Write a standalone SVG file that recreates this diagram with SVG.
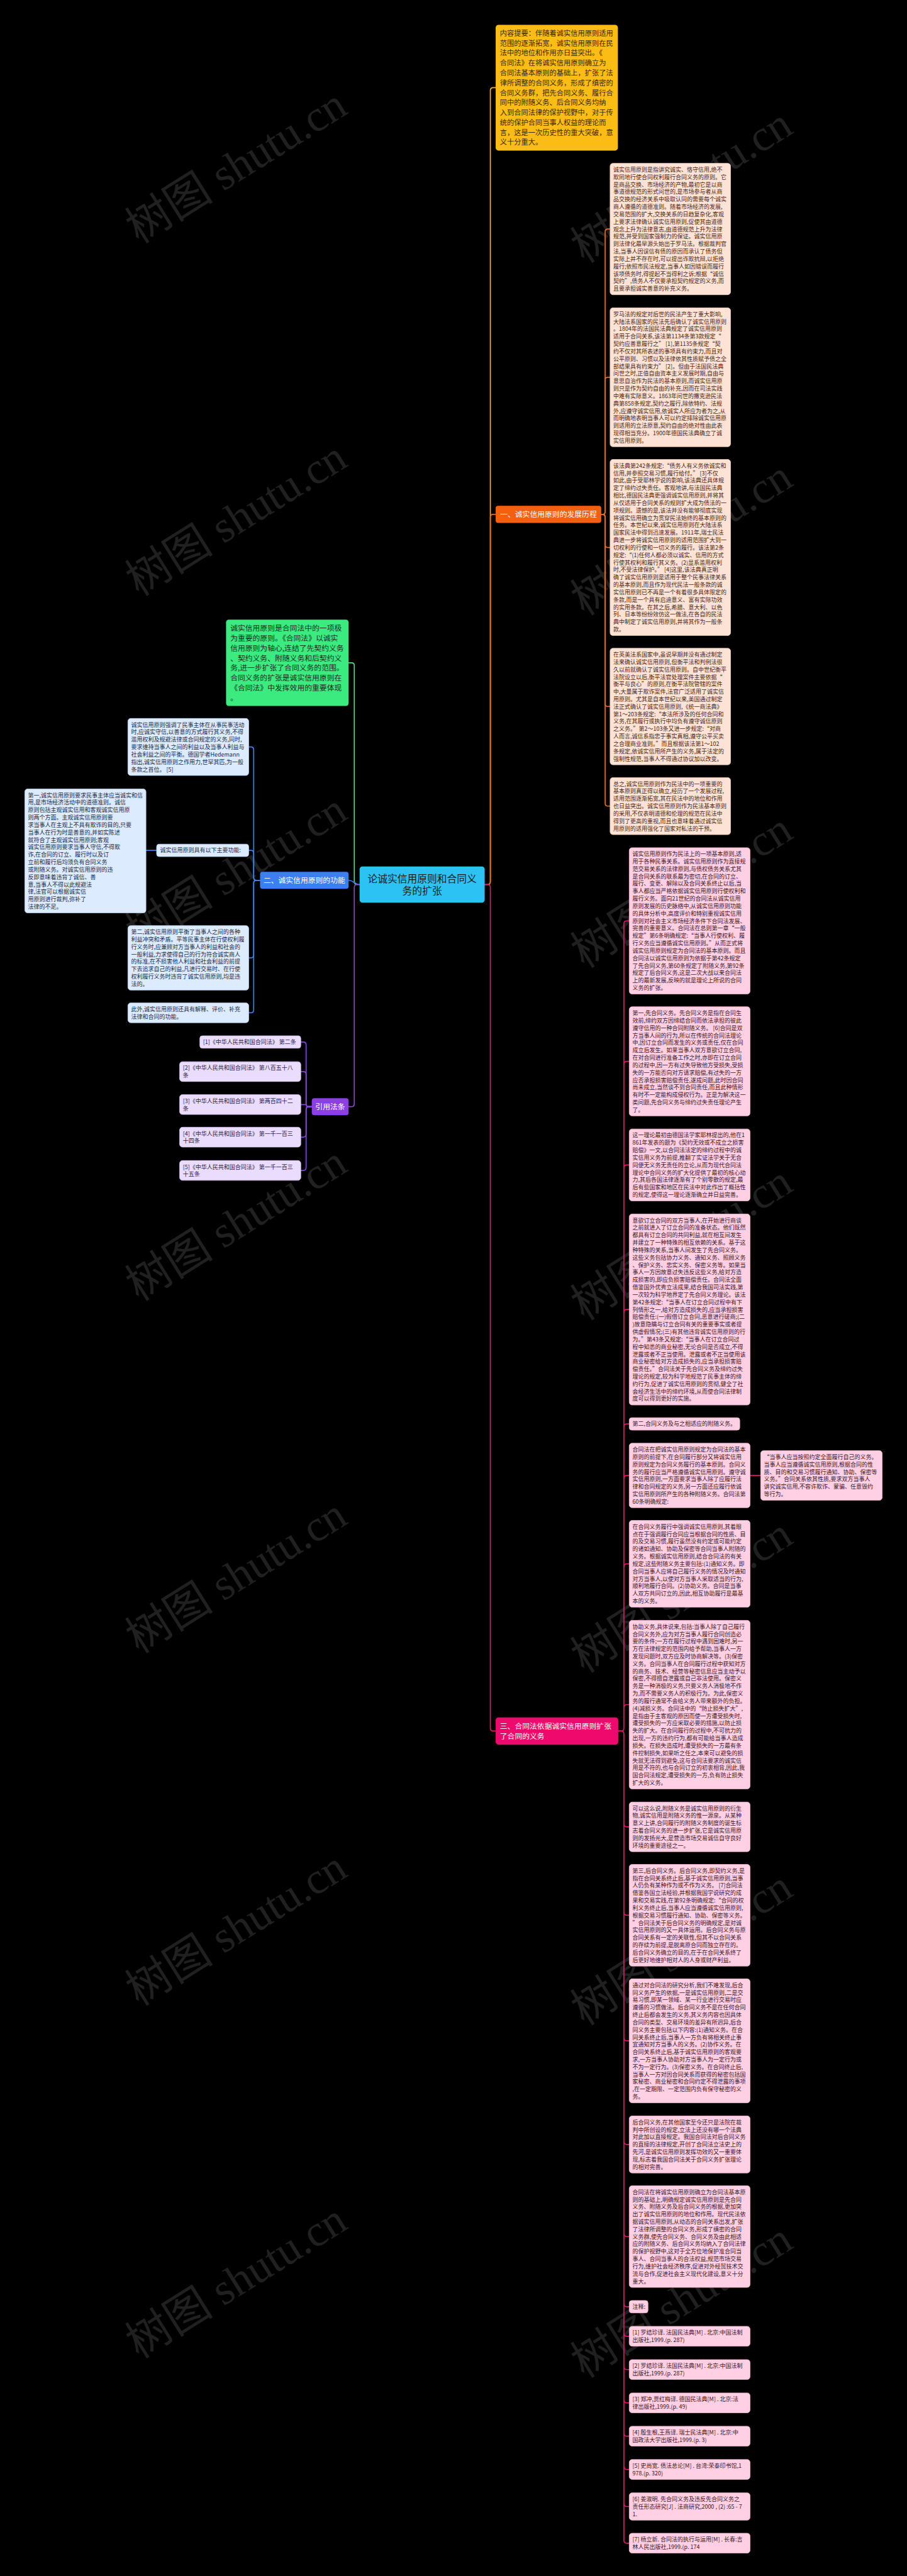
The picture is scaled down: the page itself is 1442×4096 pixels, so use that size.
<svg xmlns="http://www.w3.org/2000/svg" width="1442" height="4096" viewBox="0 0 1442 4096">
<defs>
<style>
text{font-family:'Noto Sans CJK SC','Noto Sans',sans-serif}
.s16{font-size:16px}.s20{font-size:20px}.s21{font-size:21px}.s28{font-size:28px}
.tpe{fill:#4a2614}.tpk{fill:#3d1526}.tbl{fill:#1d2a45}.tpu{fill:#2f1a4d}.tw{fill:#ffffff}.tdk{fill:#1b1b1b}
.rpe{fill:#fde3d5;stroke:#f3cbb5;stroke-width:1.5}
.rpk{fill:#ffd0e3;stroke:#f4b4cf;stroke-width:1.5}
.rbl{fill:#dcebfd;stroke:#b8d2f6;stroke-width:1.5}
.rpu{fill:#eadcfc;stroke:#d2bff2;stroke-width:1.5}
.ln{fill:none;stroke-width:3;stroke-linecap:round;stroke-linejoin:round}
.ly{stroke:#f3b51a}.lo{stroke:#ef6a1f}.lm{stroke:#dc1c68}.lg{stroke:#45e287}.lb{stroke:#3e80ea}.lp{stroke:#8b45d8}
.wm{font-family:'Liberation Serif','Noto Sans CJK SC',serif;font-size:125px;fill:#202020}
</style>
</defs>
<rect x="0" y="0" width="1442" height="4096" fill="#000000"/>
<g transform="scale(0.56328)">

<g id="watermarks">
<text class="wm" text-anchor="middle" transform="translate(668 470) rotate(-32)" y="40">树图 shutu.cn</text>
<text class="wm" text-anchor="middle" transform="translate(668 1465) rotate(-32)" y="40">树图 shutu.cn</text>
<text class="wm" text-anchor="middle" transform="translate(668 2460) rotate(-32)" y="40">树图 shutu.cn</text>
<text class="wm" text-anchor="middle" transform="translate(668 3455) rotate(-32)" y="40">树图 shutu.cn</text>
<text class="wm" text-anchor="middle" transform="translate(668 4450) rotate(-32)" y="40">树图 shutu.cn</text>
<text class="wm" text-anchor="middle" transform="translate(668 5445) rotate(-32)" y="40">树图 shutu.cn</text>
<text class="wm" text-anchor="middle" transform="translate(668 6440) rotate(-32)" y="40">树图 shutu.cn</text>
<text class="wm" text-anchor="middle" transform="translate(1925 525) rotate(-32)" y="40">树图 shutu.cn</text>
<text class="wm" text-anchor="middle" transform="translate(1925 1520) rotate(-32)" y="40">树图 shutu.cn</text>
<text class="wm" text-anchor="middle" transform="translate(1925 2515) rotate(-32)" y="40">树图 shutu.cn</text>
<text class="wm" text-anchor="middle" transform="translate(1925 3510) rotate(-32)" y="40">树图 shutu.cn</text>
<text class="wm" text-anchor="middle" transform="translate(1925 4505) rotate(-32)" y="40">树图 shutu.cn</text>
<text class="wm" text-anchor="middle" transform="translate(1925 5500) rotate(-32)" y="40">树图 shutu.cn</text>
<text class="wm" text-anchor="middle" transform="translate(1925 6495) rotate(-32)" y="40">树图 shutu.cn</text>
</g>

<g id="connectors">
<path class="ln ly" d="M1368 2497 H1376 Q1384 2497 1384 2489 V255.5 Q1384 247.5 1392 247.5 H1399"/>
<path class="ln lo" d="M1368 2497 H1376 Q1384 2497 1384 2489 V1460 Q1384 1452 1392 1452 H1399"/>
<path class="ln lm" d="M1368 2497 H1376 Q1384 2497 1384 2505 V4878.5 Q1384 4886.5 1392 4886.5 H1399"/>
<path class="ln lg" d="M1015 2497 H1008 Q1000 2497 1000 2489 V1879 Q1000 1871 992 1871 H984"/>
<path class="ln lb" d="M1015 2497 C1000 2497 1000 2485 984 2485"/>
<path class="ln lp" d="M1015 2497 H1008 Q1000 2497 1000 2505 V3116 Q1000 3124 992 3124 H984"/>
<path class="ln lo" d="M1697 1452 H1700 Q1708 1452 1708 1444 V654.5 Q1708 646.5 1716 646.5 H1722"/>
<path class="ln lo" d="M1697 1452 H1700 Q1708 1452 1708 1444 V1073 Q1708 1065 1716 1065 H1722"/>
<path class="ln lo" d="M1697 1452 H1700 Q1708 1452 1708 1460 V1537.5 Q1708 1545.5 1716 1545.5 H1722"/>
<path class="ln lo" d="M1697 1452 H1700 Q1708 1452 1708 1460 V1986.5 Q1708 1994.5 1716 1994.5 H1722"/>
<path class="ln lo" d="M1697 1452 H1700 Q1708 1452 1708 1460 V2267.5 Q1708 2275.5 1716 2275.5 H1722"/>
<path class="ln lb" d="M734 2485 H724 Q716 2485 716 2477 V2116.5 Q716 2108.5 708 2108.5 H702"/>
<path class="ln lb" d="M734 2485 H724 Q716 2485 716 2477 V2408.5 Q716 2400.5 708 2400.5 H702"/>
<path class="ln lb" d="M734 2485 H724 Q716 2485 716 2493 V2696 Q716 2704 708 2704 H702"/>
<path class="ln lb" d="M734 2485 H724 Q716 2485 716 2493 V2851 Q716 2859 708 2859 H702"/>
<path class="ln lb" d="M442 2400.5 H412"/>
<path class="ln lp" d="M880 3124 H872 Q864 3124 864 3116 V2949.5 Q864 2941.5 856 2941.5 H849"/>
<path class="ln lp" d="M880 3124 H872 Q864 3124 864 3116 V3033 Q864 3025 856 3025 H849"/>
<path class="ln lp" d="M880 3124 H872 Q864 3124 864 3118 Q864 3118 856 3118 H849"/>
<path class="ln lp" d="M880 3124 H872 Q864 3124 864 3132 V3202 Q864 3210 856 3210 H849"/>
<path class="ln lp" d="M880 3124 H872 Q864 3124 864 3132 V3296 Q864 3304 856 3304 H849"/>
<g class="ln lm">
<path d="M1745 4886.5 H1753 Q1761 4886.5 1761 4878.5 V2607.5 Q1761 2599.5 1769 2599.5 H1776"/>
<path d="M1761 3004 Q1761 2996 1769 2996 H1776"/>
<path d="M1761 3296.5 Q1761 3288.5 1769 3288.5 H1776"/>
<path d="M1761 3704.5 Q1761 3696.5 1769 3696.5 H1776"/>
<path d="M1761 4027.5 Q1761 4019.5 1769 4019.5 H1776"/>
<path d="M1761 4173 Q1761 4165 1769 4165 H1776"/>
<path d="M1761 4422.5 Q1761 4414.5 1769 4414.5 H1776"/>
<path d="M1761 4820 Q1761 4812 1769 4812 H1776"/>
<path d="M1745 4886.5 H1753 Q1761 4886.5 1761 4894.5 V7171 Q1761 7179 1769 7179 H1776"/>
<path d="M1761 5149 Q1761 5157 1769 5157 H1776"/>
<path d="M1761 5398.5 Q1761 5406.5 1769 5406.5 H1776"/>
<path d="M1761 5753 Q1761 5761 1769 5761 H1776"/>
<path d="M1761 6045.5 Q1761 6053.5 1769 6053.5 H1776"/>
<path d="M1761 6305.5 Q1761 6313.5 1769 6313.5 H1776"/>
<path d="M1761 6503.5 Q1761 6511.5 1769 6511.5 H1776"/>
<path d="M1761 6587 Q1761 6595 1769 6595 H1776"/>
<path d="M1761 6681 Q1761 6689 1769 6689 H1776"/>
<path d="M1761 6775 Q1761 6783 1769 6783 H1776"/>
<path d="M1761 6869 Q1761 6877 1769 6877 H1776"/>
<path d="M1761 6963 Q1761 6971 1769 6971 H1776"/>
<path d="M1761 7067.5 Q1761 7075.5 1769 7075.5 H1776"/>
<path d="M2117 4165 H2147"/>
</g>
</g>

<g id="center">
<rect x="1015" y="2446" width="353" height="102" rx="8" fill="#2cc3f4"/>
<text class="s28 tdk" text-anchor="middle" x="1191.5" y="2490">论诚实信用原则和合同义<tspan x="1191.5" dy="35">务的扩张</tspan></text>
</g>

<g id="summary">
<rect x="1399" y="70" width="345" height="355" rx="8" fill="#fbbc16"/>
<text class="s20" fill="#3a2800" x="1411" y="101"><tspan x="1411" dy="0">内容提要：伴随着诚实信用原则适用</tspan><tspan x="1411" dy="28">范围的逐渐拓宽，诚实信用原则在民</tspan><tspan x="1411" dy="28">法中的地位和作用亦日益突出。《</tspan><tspan x="1411" dy="28">合同法》在将诚实信用原则确立为</tspan><tspan x="1411" dy="28">合同法基本原则的基础上，扩张了法</tspan><tspan x="1411" dy="28">律所调整的合同义务，形成了缜密的</tspan><tspan x="1411" dy="28">合同义务群，把先合同义务、履行合</tspan><tspan x="1411" dy="28">同中的附随义务、后合同义务均纳</tspan><tspan x="1411" dy="28">入到合同法律的保护视野中，对于传</tspan><tspan x="1411" dy="28">统的保护合同当事人权益的理论而</tspan><tspan x="1411" dy="28">言，这是一次历史性的重大突破，意</tspan><tspan x="1411" dy="28">义十分重大。</tspan></text>
</g>

<g id="branch1">
<rect x="1399" y="1428" width="298" height="48" rx="7" fill="#f4600f"/>
<text class="s21 tw" text-anchor="middle" x="1548" y="1459">一、诚实信用原则的发展历程</text>
</g>

<g id="b1n1">
<rect class="rpe" x="1722" y="461" width="340" height="371" rx="8"/>
<text class="s16 tpe" x="1731" y="484.5"><tspan x="1731" dy="0">诚实信用原则是指讲究诚实、恪守信用,绝不</tspan><tspan x="1731" dy="21">欺罔地行使合同权利履行合同义务的原则。它</tspan><tspan x="1731" dy="21">是商品交换、市场经济的产物,最初它是以商</tspan><tspan x="1731" dy="21">事道德规范的形式问世的,是市场参与者从商</tspan><tspan x="1731" dy="21">品交换的经济关系中吸取认同的需要每个诚实</tspan><tspan x="1731" dy="21">商人遵循的道德准则。随着市场经济的发展,</tspan><tspan x="1731" dy="21">交易范围的扩大,交换关系的日趋复杂化,客观</tspan><tspan x="1731" dy="21">上要求法律确认诚实信用原则,促使其由道德</tspan><tspan x="1731" dy="21">观念上升为法律意志,由道德规范上升为法律</tspan><tspan x="1731" dy="21">规范,并受到国家强制力的保证。诚实信用原</tspan><tspan x="1731" dy="21">则法律化最早源头始出于罗马法。根据裁判官</tspan><tspan x="1731" dy="21">法,当事人因误信有债的原因而承认了债务但</tspan><tspan x="1731" dy="21">实际上并不存在时,可以提出诈欺抗辩,以拒绝</tspan><tspan x="1731" dy="21">履行;依照市民法规定,当事人如因错误而履行</tspan><tspan x="1731" dy="21">该项债务时,得提起不当得利之诉;根据“诚信</tspan><tspan x="1731" dy="21">契约”,债务人不仅要承担契约规定的义务,而</tspan><tspan x="1731" dy="21">且要承担诚实善意的补充义务。</tspan></text>
</g>

<g id="b1n2">
<rect class="rpe" x="1722" y="869" width="340" height="392" rx="8"/>
<text class="s16 tpe" x="1731" y="892.5"><tspan x="1731" dy="0">罗马法的规定对后世的民法产生了重大影响,</tspan><tspan x="1731" dy="21">大陆法系国家的民法先后确认了诚实信用原则</tspan><tspan x="1731" dy="21">。1804年的法国民法典规定了诚实信用原则</tspan><tspan x="1731" dy="21">适用于合同关系,该法第1134条第3款规定“</tspan><tspan x="1731" dy="21">契约应善意履行之” [1],第1135条规定“契</tspan><tspan x="1731" dy="21">约不仅对其所表述的事项具有约束力,而且对</tspan><tspan x="1731" dy="21">公平原则、习惯以及法律依其性质赋予债之全</tspan><tspan x="1731" dy="21">部结果具有约束力” [2]。但由于法国民法典</tspan><tspan x="1731" dy="21">问世之时,正值自由资本主义发展时期,自由与</tspan><tspan x="1731" dy="21">意思自治作为民法的基本原则,而诚实信用原</tspan><tspan x="1731" dy="21">则只是作为契约自由的补充,因而在司法实践</tspan><tspan x="1731" dy="21">中难有实际意义。1863年问世的撒克逊民法</tspan><tspan x="1731" dy="21">典第858条规定,契约之履行,除依特约、法规</tspan><tspan x="1731" dy="21">外,应遵守诚实信用,依诚实人所应为者为之,从</tspan><tspan x="1731" dy="21">而明确地表明当事人可以约定排除诚实信用原</tspan><tspan x="1731" dy="21">则适用的立法原意,契约自由的绝对性由此表</tspan><tspan x="1731" dy="21">现得相当充分。1900年德国民法典确立了诚</tspan><tspan x="1731" dy="21">实信用原则。</tspan></text>
</g>

<g id="b1n3">
<rect class="rpe" x="1722" y="1297" width="340" height="497" rx="8"/>
<text class="s16 tpe" x="1731" y="1320.5"><tspan x="1731" dy="0">该法典第242条规定:“债务人有义务依诚实和</tspan><tspan x="1731" dy="21">信用,并参照交易习惯,履行给付。” [3]不仅</tspan><tspan x="1731" dy="21">如此,由于受耶林学说的影响,该法典还具体规</tspan><tspan x="1731" dy="21">定了缔约过失责任。客观地讲,与法国民法典</tspan><tspan x="1731" dy="21">相比,德国民法典更强调诚实信用原则,并将其</tspan><tspan x="1731" dy="21">从仅适用于合同关系的规则扩大成为债法的一</tspan><tspan x="1731" dy="21">项规则。遗憾的是,该法并没有能够彻底实现</tspan><tspan x="1731" dy="21">将诚实信用确立为贯穿民法始终的基本原则的</tspan><tspan x="1731" dy="21">任务。本世纪以来,诚实信用原则在大陆法系</tspan><tspan x="1731" dy="21">国家民法中得到迅速发展。1911年,瑞士民法</tspan><tspan x="1731" dy="21">典进一步将诚实信用原则的适用范围扩大到一</tspan><tspan x="1731" dy="21">切权利的行使和一切义务的履行。该法第2条</tspan><tspan x="1731" dy="21">规定:“(1)任何人都必须以诚实、信用的方式</tspan><tspan x="1731" dy="21">行使其权利和履行其义务。(2)显系滥用权利</tspan><tspan x="1731" dy="21">时,不受法律保护。” [4]这里,该法典真正明</tspan><tspan x="1731" dy="21">确了诚实信用原则是适用于整个民事法律关系</tspan><tspan x="1731" dy="21">的基本原则,而且作为现代民法一般条款的诚</tspan><tspan x="1731" dy="21">实信用原则已不再是一个有着很多具体限定的</tspan><tspan x="1731" dy="21">条款,而是一个具有启迪意义、富有实际功效</tspan><tspan x="1731" dy="21">的实用条款。在其之后,希腊、意大利、以色</tspan><tspan x="1731" dy="21">列、日本等纷纷效仿这一做法,在各自的民法</tspan><tspan x="1731" dy="21">典中制定了诚实信用原则,并将其作为一般条</tspan><tspan x="1731" dy="21">款。</tspan></text>
</g>

<g id="b1n4">
<rect class="rpe" x="1722" y="1830" width="340" height="329" rx="8"/>
<text class="s16 tpe" x="1731" y="1853.5"><tspan x="1731" dy="0">在英美法系国家中,虽说早期并没有通过制定</tspan><tspan x="1731" dy="21">法来确认诚实信用原则,但衡平法和判例法很</tspan><tspan x="1731" dy="21">久以前就确认了诚实信用原则。自中世纪衡平</tspan><tspan x="1731" dy="21">法院设立以后,衡平法官处理案件主要依据“</tspan><tspan x="1731" dy="21">衡平与良心”的原则,在衡平法院管辖的案件</tspan><tspan x="1731" dy="21">中,大量属于欺诈案件,法官广泛适用了诚实信</tspan><tspan x="1731" dy="21">用原则。尤其是自本世纪以来,美国通过制定</tspan><tspan x="1731" dy="21">法正式确认了诚实信用原则,《统一商法典》</tspan><tspan x="1731" dy="21">第1～203条规定:“本法所涉及的任何合同和</tspan><tspan x="1731" dy="21">义务,在其履行或执行中均负有遵守诚信原则</tspan><tspan x="1731" dy="21">之义务。”第2～103条又进一步规定:“对商</tspan><tspan x="1731" dy="21">人而言,诚信系指忠于事实真相,遵守公平买卖</tspan><tspan x="1731" dy="21">之合理商业准则。”而且根据该法第1～102</tspan><tspan x="1731" dy="21">条规定,依诚实信用所产生的义务,属于法定的</tspan><tspan x="1731" dy="21">强制性规范,当事人不得通过协议加以改变。</tspan></text>
</g>

<g id="b1n5">
<rect class="rpe" x="1722" y="2195" width="340" height="161" rx="8"/>
<text class="s16 tpe" x="1731" y="2218.5"><tspan x="1731" dy="0">总之,诚实信用原则作为民法中的一项重要的</tspan><tspan x="1731" dy="21">基本原则真正得以确立,经历了一个发展过程,</tspan><tspan x="1731" dy="21">适用范围逐渐拓宽,其在民法中的地位和作用</tspan><tspan x="1731" dy="21">也日益突出。诚实信用原则作为民法基本原则</tspan><tspan x="1731" dy="21">的采用,不仅表明道德和伦理的规范在民法中</tspan><tspan x="1731" dy="21">得到了更高的重视,而且也意味着通过诚实信</tspan><tspan x="1731" dy="21">用原则的适用强化了国家对私法的干预。</tspan></text>
</g>

<g id="green">
<rect x="638" y="1749" width="346" height="244" rx="8" fill="#3ceb7f"/>
<text class="s21" fill="#15301d" x="650" y="1781"><tspan x="650" dy="0">诚实信用原则是合同法中的一项极</tspan><tspan x="650" dy="28">为重要的原则。《合同法》以诚实</tspan><tspan x="650" dy="28">信用原则为轴心,连结了先契约义务</tspan><tspan x="650" dy="28">、契约义务、附随义务和后契约义</tspan><tspan x="650" dy="28">务,进一步扩张了合同义务的范围。</tspan><tspan x="650" dy="28">合同义务的扩张是诚实信用原则在</tspan><tspan x="650" dy="28">《合同法》中发挥效用的重要体现</tspan><tspan x="650" dy="28">。</tspan></text>
</g>

<g id="branch2">
<rect x="734" y="2461" width="250" height="48" rx="7" fill="#3b7ff2"/>
<text class="s21 tw" text-anchor="middle" x="859" y="2492">二、诚实信用原则的功能</text>
</g>

<g id="b2n1">
<rect class="rbl" x="361" y="2028" width="341" height="161" rx="8"/>
<text class="s16 tbl" x="370" y="2051.5"><tspan x="370" dy="0">诚实信用原则强调了民事主体在从事民事活动</tspan><tspan x="370" dy="21">时,应诚实守信,以善意的方式履行其义务,不得</tspan><tspan x="370" dy="21">滥用权利及规避法律或合同规定的义务,同时,</tspan><tspan x="370" dy="21">要求维持当事人之间的利益以及当事人利益与</tspan><tspan x="370" dy="21">社会利益之间的平衡。德国学者Hedemann</tspan><tspan x="370" dy="21">指出,诚实信用原则之作用力,世罕其匹,为一般</tspan><tspan x="370" dy="21">条款之首位。 [5]</tspan></text>
</g>

<g id="b2n2">
<rect class="rbl" x="442" y="2383" width="260" height="35" rx="7"/>
<text class="s16 tbl" x="452" y="2406">诚实信用原则具有以下主要功能:</text>
</g>

<g id="b2n2a">
<rect class="rbl" x="70" y="2227" width="342" height="350" rx="8"/>
<text class="s16 tbl" x="79" y="2250.5"><tspan x="79" dy="0">第一,诚实信用原则要求民事主体应当诚实和信</tspan><tspan x="79" dy="21">用,是市场经济活动中的道德准则。诚信</tspan><tspan x="79" dy="21">原则包括主观诚实信用和客观诚实信用原</tspan><tspan x="79" dy="21">则两个方面。主观诚实信用原则要</tspan><tspan x="79" dy="21">求当事人在主观上不具有欺诈的目的,只要</tspan><tspan x="79" dy="21">当事人在行为时是善意的,并如实陈述</tspan><tspan x="79" dy="21">就符合了主观诚实信用原则;客观</tspan><tspan x="79" dy="21">诚实信用原则要求当事人守信,不得欺</tspan><tspan x="79" dy="21">诈,在合同的订立、履行时以及订</tspan><tspan x="79" dy="21">立前和履行后均须负有合同义务</tspan><tspan x="79" dy="21">或附随义务。对诚实信用原则的违</tspan><tspan x="79" dy="21">反即意味着违背了诚信、善</tspan><tspan x="79" dy="21">意,当事人不得以此规避法</tspan><tspan x="79" dy="21">律,法官可以根据诚实信</tspan><tspan x="79" dy="21">用原则进行裁判,弥补了</tspan><tspan x="79" dy="21">法律的不足。</tspan></text>
</g>

<g id="b2n3">
<rect class="rbl" x="361" y="2613" width="341" height="182" rx="8"/>
<text class="s16 tbl" x="370" y="2636.5"><tspan x="370" dy="0">第二,诚实信用原则平衡了当事人之间的各种</tspan><tspan x="370" dy="21">利益冲突和矛盾。平等民事主体在行使权利履</tspan><tspan x="370" dy="21">行义务时,应兼顾对方当事人的利益和社会的</tspan><tspan x="370" dy="21">一般利益,力求使得自己的行为符合诚实商人</tspan><tspan x="370" dy="21">的标准,在不损害他人利益和社会利益的前提</tspan><tspan x="370" dy="21">下去追求自己的利益,凡进行交易时、在行使</tspan><tspan x="370" dy="21">权利履行义务时违背了诚实信用原则,均是违</tspan><tspan x="370" dy="21">法的。</tspan></text>
</g>

<g id="b2n4">
<rect class="rbl" x="361" y="2831" width="341" height="56" rx="8"/>
<text class="s16 tbl" x="370" y="2854.5"><tspan x="370" dy="0">此外,诚实信用原则还具有解释、评价、补充</tspan><tspan x="370" dy="21">法律和合同的功能。</tspan></text>
</g>

<g id="branch4">
<rect x="880" y="3100" width="104" height="48" rx="7" fill="#8c3fe3"/>
<text class="s21 tw" text-anchor="middle" x="932" y="3131">引用法条</text>
</g>
<g id="law1"><rect class="rpu" x="564" y="2924" width="285" height="35" rx="7"/><text class="s16 tpu" x="573" y="2947">[1]《中华人民共和国合同法》 第二条</text></g>
<g id="law2"><rect class="rpu" x="507" y="2997" width="342" height="56" rx="8"/><text class="s16 tpu" x="516" y="3020.5"><tspan x="516" dy="0">[2]《中华人民共和国合同法》 第八百五十八</tspan><tspan x="516" dy="21">条</tspan></text></g>
<g id="law3"><rect class="rpu" x="507" y="3090" width="342" height="56" rx="8"/><text class="s16 tpu" x="516" y="3113.5"><tspan x="516" dy="0">[3]《中华人民共和国合同法》 第两百四十二</tspan><tspan x="516" dy="21">条</tspan></text></g>
<g id="law4"><rect class="rpu" x="507" y="3182" width="342" height="56" rx="8"/><text class="s16 tpu" x="516" y="3205.5"><tspan x="516" dy="0">[4]《中华人民共和国合同法》 第一千一百三</tspan><tspan x="516" dy="21">十四条</tspan></text></g>
<g id="law5"><rect class="rpu" x="507" y="3276" width="342" height="56" rx="8"/><text class="s16 tpu" x="516" y="3299.5"><tspan x="516" dy="0">[5]《中华人民共和国合同法》 第一千一百三</tspan><tspan x="516" dy="21">十五条</tspan></text></g>

<g id="branch3">
<rect x="1399" y="4848" width="346" height="77" rx="8" fill="#f0096c"/>
<text class="s21 tw" x="1411" y="4880"><tspan x="1411" dy="0">三、合同法依据诚实信用原则扩张</tspan><tspan x="1411" dy="28">了合同的义务</tspan></text>
</g>

<g id="p1"><rect class="rpk" x="1776" y="2393" width="341" height="413" rx="8"/>
<text class="s16 tpk" x="1785" y="2416.5"><tspan x="1785" dy="0">诚实信用原则作为民法上的一项基本原则,适</tspan><tspan x="1785" dy="21">用于各种民事关系。诚实信用原则作为直接规</tspan><tspan x="1785" dy="21">范交易关系的法律原则,与债权债务关系尤其</tspan><tspan x="1785" dy="21">是合同关系的联系最为密切,在合同的订立、</tspan><tspan x="1785" dy="21">履行、变更、解除以及合同关系终止以后,当</tspan><tspan x="1785" dy="21">事人都应当严格依据诚实信用原则行使权利和</tspan><tspan x="1785" dy="21">履行义务。面向21世纪的合同法从诚实信用</tspan><tspan x="1785" dy="21">原则发展的历史脉络中,从诚实信用原则功能</tspan><tspan x="1785" dy="21">的具体分析中,高度评价和特别重视诚实信用</tspan><tspan x="1785" dy="21">原则对社会主义市场经济条件下合同法发展、</tspan><tspan x="1785" dy="21">完善的重要意义。合同法在总则第一章“一般</tspan><tspan x="1785" dy="21">规定”第6条明确规定:“当事人行使权利、履</tspan><tspan x="1785" dy="21">行义务应当遵循诚实信用原则。”从而正式将</tspan><tspan x="1785" dy="21">诚实信用原则规定为合同法的基本原则。而且</tspan><tspan x="1785" dy="21">合同法以诚实信用原则为依据于第42条规定</tspan><tspan x="1785" dy="21">了先合同义务,第60条规定了附随义务,第92条</tspan><tspan x="1785" dy="21">规定了后合同义务,这是二次大战以来合同法</tspan><tspan x="1785" dy="21">上的最新发展,反映的就是理论上所说的合同</tspan><tspan x="1785" dy="21">义务的扩张。</tspan></text></g>

<g id="p2"><rect class="rpk" x="1776" y="2842" width="341" height="308" rx="8"/>
<text class="s16 tpk" x="1785" y="2865.5"><tspan x="1785" dy="0">第一,先合同义务。先合同义务是指在合同生</tspan><tspan x="1785" dy="21">效前,缔约双方因缔结合同而依法承担的彼此</tspan><tspan x="1785" dy="21">遵守信用的一种合同附随义务。 [6]合同是双</tspan><tspan x="1785" dy="21">方当事人间的行为,所以在传统的合同法理论</tspan><tspan x="1785" dy="21">中,因订立合同而发生的义务或责任,仅在合同</tspan><tspan x="1785" dy="21">成立后发生。如果当事人双方意欲订立合同,</tspan><tspan x="1785" dy="21">在对合同进行准备工作之时,亦即在订立合同</tspan><tspan x="1785" dy="21">的过程中,因一方有过失导致他方受损失,受损</tspan><tspan x="1785" dy="21">失的一方能否向对方请求赔偿,有过失的一方</tspan><tspan x="1785" dy="21">应否承担损害赔偿责任,遂成问题,此时因合同</tspan><tspan x="1785" dy="21">尚未成立,当然谈不到合同责任,而且此种情形</tspan><tspan x="1785" dy="21">有时不一定能构成侵权行为。正是为解决这一</tspan><tspan x="1785" dy="21">类问题,先合同义务与缔约过失责任理论产生</tspan><tspan x="1785" dy="21">了。</tspan></text></g>

<g id="p3"><rect class="rpk" x="1776" y="3187" width="341" height="203" rx="8"/>
<text class="s16 tpk" x="1785" y="3210.5"><tspan x="1785" dy="0">这一理论最初由德国法学家耶林提出的,他在1</tspan><tspan x="1785" dy="21">861年发表的题为《契约无效或不成立之损害</tspan><tspan x="1785" dy="21">赔偿》一文,以合同法法定的缔约过程中的诚</tspan><tspan x="1785" dy="21">实信用义务为前提,推翻了实证法学关于无合</tspan><tspan x="1785" dy="21">同便无义务无责任的立论,从而为现代合同法</tspan><tspan x="1785" dy="21">理论中合同义务的扩大化提供了最初的核心动</tspan><tspan x="1785" dy="21">力,其后各国法律逐渐有了个别零散的规定,最</tspan><tspan x="1785" dy="21">后有些国家和地区在民法中对此作出了概括性</tspan><tspan x="1785" dy="21">的规定,使得这一理论逐渐确立并日益完善。</tspan></text></g>

<g id="p4"><rect class="rpk" x="1776" y="3427" width="341" height="539" rx="8"/>
<text class="s16 tpk" x="1785" y="3450.5"><tspan x="1785" dy="0">意欲订立合同的双方当事人,在开始进行商谈</tspan><tspan x="1785" dy="21">之前就进入了订立合同的准备状态。他们既然</tspan><tspan x="1785" dy="21">都具有订立合同的共同利益,就在相互间发生</tspan><tspan x="1785" dy="21">并建立了一种特殊的相互依赖的关系。基于这</tspan><tspan x="1785" dy="21">种特殊的关系,当事人间发生了先合同义务。</tspan><tspan x="1785" dy="21">这些义务包括协力义务、通知义务、照顾义务</tspan><tspan x="1785" dy="21">、保护义务、忠实义务、保密义务等。如果当</tspan><tspan x="1785" dy="21">事人一方因故意过失违反这些义务,给对方造</tspan><tspan x="1785" dy="21">成损害的,即应负损害赔偿责任。合同法全面</tspan><tspan x="1785" dy="21">借鉴国外优秀立法成果,结合我国司法实践,第</tspan><tspan x="1785" dy="21">一次较为科学地界定了先合同义务理论。该法</tspan><tspan x="1785" dy="21">第42条规定:“当事人在订立合同过程中有下</tspan><tspan x="1785" dy="21">列情形之一,给对方造成损失的,应当承担损害</tspan><tspan x="1785" dy="21">赔偿责任:(一)假借订立合同,恶意进行磋商;(二</tspan><tspan x="1785" dy="21">)故意隐瞒与订立合同有关的重要事实或者提</tspan><tspan x="1785" dy="21">供虚假情况;(三)有其他违背诚实信用原则的行</tspan><tspan x="1785" dy="21">为。”第43条又规定:“当事人在订立合同过</tspan><tspan x="1785" dy="21">程中知悉的商业秘密,无论合同是否成立,不得</tspan><tspan x="1785" dy="21">泄露或者不正当使用。泄露或者不正当使用该</tspan><tspan x="1785" dy="21">商业秘密给对方造成损失的,应当承担损害赔</tspan><tspan x="1785" dy="21">偿责任。”合同法关于先合同义务及缔约过失</tspan><tspan x="1785" dy="21">理论的规定,较为科学地规范了民事主体的缔</tspan><tspan x="1785" dy="21">约行为,促进了诚实信用原则的贯彻,健全了社</tspan><tspan x="1785" dy="21">会经济生活中的缔约环境,从而使合同法律制</tspan><tspan x="1785" dy="21">度可以得到更好的实施。</tspan></text></g>

<g id="p5"><rect class="rpk" x="1776" y="4002" width="312" height="35" rx="7"/>
<text class="s16 tpk" x="1785" y="4025">第二,合同义务及与之相适应的附随义务。</text></g>

<g id="p6"><rect class="rpk" x="1776" y="4074" width="341" height="182" rx="8"/>
<text class="s16 tpk" x="1785" y="4097.5"><tspan x="1785" dy="0">合同法在把诚实信用原则规定为合同法的基本</tspan><tspan x="1785" dy="21">原则的前提下,在合同履行部分又将诚实信用</tspan><tspan x="1785" dy="21">原则规定为合同义务履行的基本原则。合同义</tspan><tspan x="1785" dy="21">务的履行应当严格遵循诚实信用原则。遵守诚</tspan><tspan x="1785" dy="21">实信用原则,一方面要求当事人除了应履行法</tspan><tspan x="1785" dy="21">律和合同规定的义务,另一方面还应履行依诚</tspan><tspan x="1785" dy="21">实信用原则所产生的各种附随义务。合同法第</tspan><tspan x="1785" dy="21">60条明确规定:</tspan></text></g>

<g id="p6side"><rect class="rpk" x="2147" y="4095" width="343" height="140" rx="8"/>
<text class="s16 tpk" x="2156" y="4118.5"><tspan x="2156" dy="0">“当事人应当按照约定全面履行自己的义务。</tspan><tspan x="2156" dy="21">当事人应当遵循诚实信用原则,根据合同的性</tspan><tspan x="2156" dy="21">质、目的和交易习惯履行通知、协助、保密等</tspan><tspan x="2156" dy="21">义务。”合同关系依其性质,要求双方当事人</tspan><tspan x="2156" dy="21">讲究诚实信用,不容许欺诈、蒙骗、任意毁约</tspan><tspan x="2156" dy="21">等行为。</tspan></text></g>

<g id="p7"><rect class="rpk" x="1776" y="4292" width="341" height="245" rx="8"/>
<text class="s16 tpk" x="1785" y="4315.5"><tspan x="1785" dy="0">在合同义务履行中强调诚实信用原则,其着眼</tspan><tspan x="1785" dy="21">点在于强调履行合同应当根据合同的性质、目</tspan><tspan x="1785" dy="21">的及交易习惯,履行虽然没有约定或可能约定</tspan><tspan x="1785" dy="21">的诸如通知、协助及保密等合同当事人附随的</tspan><tspan x="1785" dy="21">义务。根据诚实信用原则,结合合同法的有关</tspan><tspan x="1785" dy="21">规定,这些附随义务主要包括:(1)通知义务。即</tspan><tspan x="1785" dy="21">合同当事人应将自己履行义务的情况及时通知</tspan><tspan x="1785" dy="21">对方当事人,以使对方当事人采取适当的行为,</tspan><tspan x="1785" dy="21">顺利地履行合同。(2)协助义务。合同是当事</tspan><tspan x="1785" dy="21">人双方共同订立的,因此,相互协助履行是最基</tspan><tspan x="1785" dy="21">本的义务。</tspan></text></g>

<g id="p8"><rect class="rpk" x="1776" y="4574" width="341" height="476" rx="8"/>
<text class="s16 tpk" x="1785" y="4597.5"><tspan x="1785" dy="0">协助义务,具体说来,包括:当事人除了自己履行</tspan><tspan x="1785" dy="21">合同义务外,应为对方当事人履行合同创造必</tspan><tspan x="1785" dy="21">要的条件;一方在履行过程中遇到困难时,另一</tspan><tspan x="1785" dy="21">方在法律规定的范围内给予帮助,当事人一方</tspan><tspan x="1785" dy="21">发现问题时,双方应及时协商解决等。(3)保密</tspan><tspan x="1785" dy="21">义务。合同当事人在合同履行过程中获知对方</tspan><tspan x="1785" dy="21">的商务、技术、经营等秘密信息应当主动予以</tspan><tspan x="1785" dy="21">保密,不得擅自泄露或自己非法使用。保密义</tspan><tspan x="1785" dy="21">务是一种消极的义务,只要义务人消极地不作</tspan><tspan x="1785" dy="21">为,而不需要义务人的积极行为。为此,保密义</tspan><tspan x="1785" dy="21">务的履行通常不会给义务人带来额外的负担。</tspan><tspan x="1785" dy="21">(4)减损义务。合同法中的“防止损失扩大”,</tspan><tspan x="1785" dy="21">是指由于主客观的原因而使一方遭受损失时,</tspan><tspan x="1785" dy="21">遭受损失的一方应采取必要的措施,以防止损</tspan><tspan x="1785" dy="21">失的扩大。在合同履行的过程中,不可抗力的</tspan><tspan x="1785" dy="21">出现,一方的违约行为,都有可能给当事人造成</tspan><tspan x="1785" dy="21">损失。在损失造成时,遭受损失的一方最有条</tspan><tspan x="1785" dy="21">件控制损失,如果听之任之,本来可以避免的损</tspan><tspan x="1785" dy="21">失就无法得到避免,这与合同法要求的诚实信</tspan><tspan x="1785" dy="21">用是不符的,也与合同订立的初衷相背,因此,我</tspan><tspan x="1785" dy="21">国合同法规定,遭受损失的一方,负有防止损失</tspan><tspan x="1785" dy="21">扩大的义务。</tspan></text></g>

<g id="p9"><rect class="rpk" x="1776" y="5087" width="341" height="140" rx="8"/>
<text class="s16 tpk" x="1785" y="5110.5"><tspan x="1785" dy="0">可以这么说,附随义务是诚实信用原则的衍生</tspan><tspan x="1785" dy="21">物,诚实信用是附随义务的惟一源泉。从某种</tspan><tspan x="1785" dy="21">意义上讲,合同履行的附随义务制度的诞生标</tspan><tspan x="1785" dy="21">志着合同义务的进一步扩张,它是诚实信用原</tspan><tspan x="1785" dy="21">则的发扬光大,是营造市场交易诚信自守良好</tspan><tspan x="1785" dy="21">环境的重要途径之一。</tspan></text></g>

<g id="p10"><rect class="rpk" x="1776" y="5263" width="341" height="287" rx="8"/>
<text class="s16 tpk" x="1785" y="5286.5"><tspan x="1785" dy="0">第三,后合同义务。后合同义务,即契约义务,是</tspan><tspan x="1785" dy="21">指在合同关系终止后,基于诚实信用原则,当事</tspan><tspan x="1785" dy="21">人仍负有某种作为或不作为义务。 [7]合同法</tspan><tspan x="1785" dy="21">借鉴各国立法经验,并根据我国学说研究的成</tspan><tspan x="1785" dy="21">果和交易实践,在第92条明确规定:“合同的权</tspan><tspan x="1785" dy="21">利义务终止后,当事人应当遵循诚实信用原则,</tspan><tspan x="1785" dy="21">根据交易习惯履行通知、协助、保密等义务。</tspan><tspan x="1785" dy="21">”合同法关于后合同义务的明确规定,是对诚</tspan><tspan x="1785" dy="21">实信用原则的又一具体运用。后合同义务与原</tspan><tspan x="1785" dy="21">合同关系有一定的关联性,但其不以合同关系</tspan><tspan x="1785" dy="21">的存续为前提,是脱离原合同而独立存在的。</tspan><tspan x="1785" dy="21">后合同义务确立的目的,在于在合同关系终了</tspan><tspan x="1785" dy="21">后更好地维护相对人的人身或财产利益。</tspan></text></g>

<g id="p11"><rect class="rpk" x="1776" y="5586" width="341" height="350" rx="8"/>
<text class="s16 tpk" x="1785" y="5609.5"><tspan x="1785" dy="0">通过对合同法的研究分析,我们不难发现,后合</tspan><tspan x="1785" dy="21">同义务产生的依据,一是诚实信用原则,二是交</tspan><tspan x="1785" dy="21">易习惯,即某一领域、某一行业进行交易时应</tspan><tspan x="1785" dy="21">遵循的习惯做法。后合同义务不是在任何合同</tspan><tspan x="1785" dy="21">终止后都会发生的义务,其义务内容也因具体</tspan><tspan x="1785" dy="21">合同的类型、交易环境的差异有所迥异,后合</tspan><tspan x="1785" dy="21">同义务主要包括以下内容:(1)通知义务。在合</tspan><tspan x="1785" dy="21">同关系终止后,当事人一方负有将相关终止事</tspan><tspan x="1785" dy="21">宜通知对方当事人的义务。(2)协作义务。在</tspan><tspan x="1785" dy="21">合同关系终止后,基于诚实信用原则的客观要</tspan><tspan x="1785" dy="21">求,一方当事人协助对方当事人为一定行为或</tspan><tspan x="1785" dy="21">不为一定行为。(3)保密义务。在合同终止后,</tspan><tspan x="1785" dy="21">当事人一方对因合同关系而获得的秘密包括国</tspan><tspan x="1785" dy="21">家秘密、商业秘密和合同约定不得泄露的事项</tspan><tspan x="1785" dy="21">,在一定期限、一定范围内负有保守秘密的义</tspan><tspan x="1785" dy="21">务。</tspan></text></g>

<g id="p12"><rect class="rpk" x="1776" y="5973" width="341" height="161" rx="8"/>
<text class="s16 tpk" x="1785" y="5996.5"><tspan x="1785" dy="0">后合同义务,在其他国家至今还只是法院在裁</tspan><tspan x="1785" dy="21">判中所创设的规定,立法上还没有哪一个法典</tspan><tspan x="1785" dy="21">对此加以直接规定。我国合同法对后合同义务</tspan><tspan x="1785" dy="21">的直接的法律规定,开创了合同法立法史上的</tspan><tspan x="1785" dy="21">先河,是诚实信用原则发挥功效的又一重要体</tspan><tspan x="1785" dy="21">现,标志着我国合同法关于合同义务扩张理论</tspan><tspan x="1785" dy="21">的相对完善。</tspan></text></g>

<g id="p13"><rect class="rpk" x="1776" y="6170" width="341" height="287" rx="8"/>
<text class="s16 tpk" x="1785" y="6193.5"><tspan x="1785" dy="0">合同法在将诚实信用原则确立为合同法基本原</tspan><tspan x="1785" dy="21">则的基础上,明确规定诚实信用原则是先合同</tspan><tspan x="1785" dy="21">义务、附随义务及后合同义务的根据,更加突</tspan><tspan x="1785" dy="21">出了诚实信用原则的地位和作用。现代民法依</tspan><tspan x="1785" dy="21">据诚实信用原则,从动态的合同关系出发,扩张</tspan><tspan x="1785" dy="21">了法律所调整的合同义务,形成了缜密的合同</tspan><tspan x="1785" dy="21">义务群,使先合同义务、合同义务及由此相适</tspan><tspan x="1785" dy="21">应的附随义务、后合同义务均纳入了合同法律</tspan><tspan x="1785" dy="21">的保护视野中,这对于全方位地保护准合同当</tspan><tspan x="1785" dy="21">事人、合同当事人的合法权益,规范市场交易</tspan><tspan x="1785" dy="21">行为,维护社会经济秩序,促进对外经贸技术交</tspan><tspan x="1785" dy="21">流与合作,促进社会主义现代化建设,意义十分</tspan><tspan x="1785" dy="21">重大。</tspan></text></g>

<g id="p14"><rect class="rpk" x="1776" y="6494" width="53" height="35" rx="7"/>
<text class="s16 tpk" x="1785" y="6517">注释:</text></g>

<g id="ref1"><rect class="rpk" x="1776" y="6567" width="341" height="56" rx="8"/>
<text class="s16 tpk" x="1785" y="6590.5"><tspan x="1785" dy="0">[1] 罗结珍译. 法国民法典[M] . 北京:中国法制</tspan><tspan x="1785" dy="21">出版社,1999.(p. 287)</tspan></text></g>
<g id="ref2"><rect class="rpk" x="1776" y="6661" width="341" height="56" rx="8"/>
<text class="s16 tpk" x="1785" y="6684.5"><tspan x="1785" dy="0">[2] 罗结珍译. 法国民法典[M] . 北京:中国法制</tspan><tspan x="1785" dy="21">出版社,1999.(p. 287)</tspan></text></g>
<g id="ref3"><rect class="rpk" x="1776" y="6755" width="341" height="56" rx="8"/>
<text class="s16 tpk" x="1785" y="6778.5"><tspan x="1785" dy="0">[3] 郑冲,贾红梅译. 德国民法典[M] . 北京:法</tspan><tspan x="1785" dy="21">律出版社,1999.(p. 49)</tspan></text></g>
<g id="ref4"><rect class="rpk" x="1776" y="6849" width="341" height="56" rx="8"/>
<text class="s16 tpk" x="1785" y="6872.5"><tspan x="1785" dy="0">[4] 殷生根,王燕译. 瑞士民法典[M] . 北京:中</tspan><tspan x="1785" dy="21">国政法大学出版社,1999.(p. 3)</tspan></text></g>
<g id="ref5"><rect class="rpk" x="1776" y="6943" width="341" height="56" rx="8"/>
<text class="s16 tpk" x="1785" y="6966.5"><tspan x="1785" dy="0">[5] 史尚宽. 债法总论[M] . 台湾:荣泰印书馆,1</tspan><tspan x="1785" dy="21">978.(p. 320)</tspan></text></g>
<g id="ref6"><rect class="rpk" x="1776" y="7037" width="341" height="77" rx="8"/>
<text class="s16 tpk" x="1785" y="7060.5"><tspan x="1785" dy="0">[6] 姜淑明. 先合同义务及违反先合同义务之</tspan><tspan x="1785" dy="21">责任形态研究[J] . 法商研究,2000 , (2) :65 - 7</tspan><tspan x="1785" dy="21">1.</tspan></text></g>
<g id="ref7"><rect class="rpk" x="1776" y="7151" width="341" height="56" rx="8"/>
<text class="s16 tpk" x="1785" y="7174.5"><tspan x="1785" dy="0">[7] 杨立新. 合同法的执行与运用[M] . 长春:吉</tspan><tspan x="1785" dy="21">林人民出版社,1999.(p. 174</tspan></text></g>

</g>
</svg>
